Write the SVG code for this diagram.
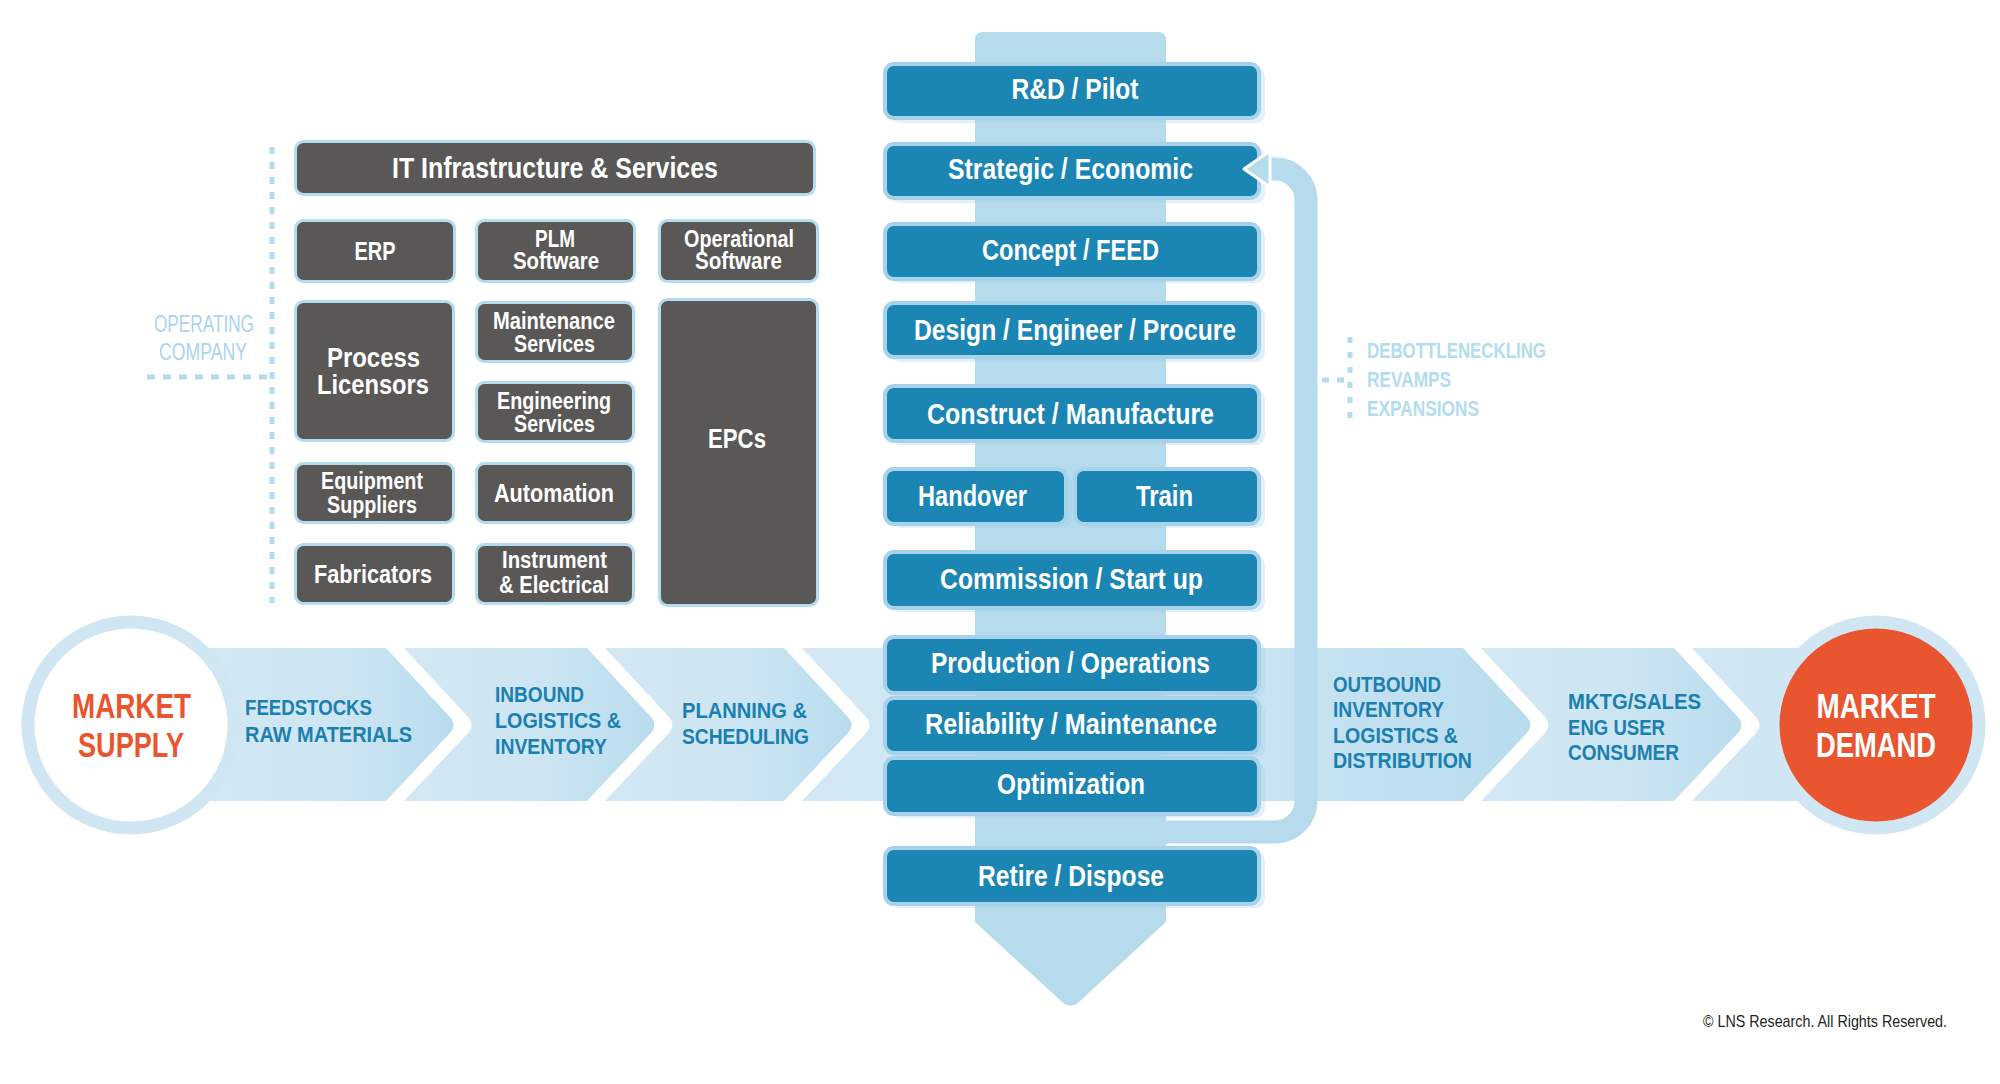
<svg xmlns="http://www.w3.org/2000/svg" width="2000" height="1084" viewBox="0 0 2000 1084">
<defs>
<linearGradient id="seg" x1="0" y1="0" x2="1" y2="0">
<stop offset="0" stop-color="#d3e8f4"/>
<stop offset="0.55" stop-color="#cde5f2"/>
<stop offset="1" stop-color="#b8dcee"/>
</linearGradient>
<style>
.sg{fill:url(#seg)}
.ring{stroke:#d0e7f3;stroke-width:13}
.col{fill:#b5dbed}
.loop{fill:none;stroke:#b5dbed;stroke-width:23}
.bs{fill:#9fcfe6;opacity:0.3}
.bb{fill:#1b85b3;stroke:#a6d3ea;stroke-width:4}
.gb{fill:#595857;stroke:#b3dcee;stroke-width:3}
.dot{fill:none;stroke:#b3dcee;stroke-width:5}
text{font-family:"Liberation Sans",Arial,sans-serif;font-weight:700}
.bt{font-size:29px;fill:#fff;text-anchor:middle}
.g1{font-size:25px;fill:#fff;text-anchor:middle}
.g2{font-size:23px;fill:#fff;text-anchor:middle}
.g3{font-size:28px;fill:#fff;text-anchor:middle}
.g4{font-size:30px;fill:#fff;text-anchor:middle}
.lb{font-size:22px;fill:#1a80b0}
.mk{font-size:35px;text-anchor:middle}
.op{font-size:23px;font-weight:400;fill:#a9d5eb;text-anchor:middle}
.db{font-size:22px;fill:#b3dcee}
.cp{font-size:17px;font-weight:400;fill:#231f20}
</style>
</defs>
<rect width="2000" height="1084" fill="#fff"/>

<g id="value-chain-band">
<path class="sg" d="M200 648H386L450 717Q457 725 450 733L386 801H200Z"/>
<path class="sg" d="M404 648H587L651 717Q658 725 651 733L587 801H404L468 733Q475 725 468 717Z"/>
<path class="sg" d="M605 648H784L848 717Q855 725 848 733L784 801H605L669 733Q676 725 669 717Z"/>
<path class="sg" d="M802 648H1463L1527 717Q1534 725 1527 733L1463 801H802L866 733Q873 725 866 717Z"/>
<path class="sg" d="M1481 648H1674L1738 717Q1745 725 1738 733L1674 801H1481L1545 733Q1552 725 1545 717Z"/>
<path class="sg" d="M1692 648H1880V801H1692L1756 733Q1763 725 1756 717Z"/>
</g>

<g id="market-supply">
<circle class="ring" cx="131" cy="725" r="103" fill="#fff"/>
<text class="mk" x="131.5" y="718" fill="#e8552f" textLength="119" lengthAdjust="spacingAndGlyphs">MARKET</text>
<text class="mk" x="131" y="757" fill="#e8552f" textLength="106" lengthAdjust="spacingAndGlyphs">SUPPLY</text>
</g>
<g id="market-demand">
<circle class="ring" cx="1876" cy="725" r="103" fill="#e8552f"/>
<text class="mk" x="1876" y="718" fill="#fff" textLength="119" lengthAdjust="spacingAndGlyphs">MARKET</text>
<text class="mk" x="1876" y="757" fill="#fff" textLength="120" lengthAdjust="spacingAndGlyphs">DEMAND</text>
</g>

<g id="band-labels">
<text class="lb" x="245" y="715" textLength="127" lengthAdjust="spacingAndGlyphs">FEEDSTOCKS</text>
<text class="lb" x="245" y="742" textLength="167" lengthAdjust="spacingAndGlyphs">RAW MATERIALS</text>
<text class="lb" x="495" y="702" textLength="89" lengthAdjust="spacingAndGlyphs">INBOUND</text>
<text class="lb" x="495" y="728" textLength="126" lengthAdjust="spacingAndGlyphs">LOGISTICS &amp;</text>
<text class="lb" x="495" y="754" textLength="112" lengthAdjust="spacingAndGlyphs">INVENTORY</text>
<text class="lb" x="682" y="718" textLength="125" lengthAdjust="spacingAndGlyphs">PLANNING &amp;</text>
<text class="lb" x="682" y="744" textLength="127" lengthAdjust="spacingAndGlyphs">SCHEDULING</text>
<text class="lb" x="1333" y="692" textLength="108" lengthAdjust="spacingAndGlyphs">OUTBOUND</text>
<text class="lb" x="1333" y="717" textLength="111" lengthAdjust="spacingAndGlyphs">INVENTORY</text>
<text class="lb" x="1333" y="743" textLength="125" lengthAdjust="spacingAndGlyphs">LOGISTICS &amp;</text>
<text class="lb" x="1333" y="768" textLength="139" lengthAdjust="spacingAndGlyphs">DISTRIBUTION</text>
<text class="lb" x="1568" y="709" textLength="133" lengthAdjust="spacingAndGlyphs">MKTG/SALES</text>
<text class="lb" x="1568" y="735" textLength="97" lengthAdjust="spacingAndGlyphs">ENG USER</text>
<text class="lb" x="1568" y="760" textLength="111" lengthAdjust="spacingAndGlyphs">CONSUMER</text>
</g>

<g id="lifecycle-column">
<path class="col" d="M983 32H1158Q1166 32 1166 40V922L1080 1001Q1070.5 1010 1061 1001L975 922V40Q975 32 983 32Z"/>
</g>

<g id="connectors">
<path class="loop" d="M1150 832H1275A31 31 0 0 0 1306 801V200A31 31 0 0 0 1275 169H1266"/>
<path class="dot" d="M272 147V603" stroke-dasharray="7 8"/>
<path class="dot" d="M147 377H268" stroke-dasharray="8 8"/>
<path class="dot" d="M1350 337V420" stroke-dasharray="6 9"/>
<path class="dot" d="M1322 380H1347" stroke-dasharray="7 8"/>
</g>

<g id="stage-shadows">
<rect class="bs" x="891" y="68" width="374" height="55" rx="9"/>
<rect class="bs" x="891" y="148" width="374" height="55" rx="9"/>
<rect class="bs" x="891" y="228" width="374" height="55" rx="9"/>
<rect class="bs" x="891" y="307" width="374" height="55" rx="9"/>
<rect class="bs" x="891" y="390" width="374" height="55" rx="9"/>
<rect class="bs" x="891" y="473" width="181" height="55" rx="9"/>
<rect class="bs" x="1081" y="473" width="184" height="55" rx="9"/>
<rect class="bs" x="891" y="556" width="374" height="56" rx="9"/>
<rect class="bs" x="891" y="641" width="374" height="56" rx="9"/>
<rect class="bs" x="891" y="702" width="374" height="55" rx="9"/>
<rect class="bs" x="891" y="762" width="374" height="56" rx="9"/>
<rect class="bs" x="891" y="852" width="374" height="56" rx="9"/>
</g>

<g id="stage-rd"><rect class="bb" x="885" y="64" width="374" height="54" rx="9"/><text class="bt" x="1075" y="99" textLength="127" lengthAdjust="spacingAndGlyphs">R&amp;D / Pilot</text></g>
<g id="stage-strategic"><rect class="bb" x="885" y="144" width="374" height="54" rx="9"/><text class="bt" x="1070.5" y="179" textLength="245" lengthAdjust="spacingAndGlyphs">Strategic / Economic</text></g>
<g id="stage-concept"><rect class="bb" x="885" y="224" width="374" height="55" rx="9"/><text class="bt" x="1070.5" y="260" textLength="177" lengthAdjust="spacingAndGlyphs">Concept / FEED</text></g>
<g id="stage-design"><rect class="bb" x="885" y="303" width="374" height="54" rx="9"/><text class="bt" x="1075" y="340" textLength="322" lengthAdjust="spacingAndGlyphs">Design / Engineer / Procure</text></g>
<g id="stage-construct"><rect class="bb" x="885" y="386" width="374" height="55" rx="9"/><text class="bt" x="1070.5" y="424" textLength="287" lengthAdjust="spacingAndGlyphs">Construct / Manufacture</text></g>
<g id="stage-handover"><rect class="bb" x="885" y="469" width="181" height="55" rx="9"/><text class="bt" x="972.5" y="506" textLength="109" lengthAdjust="spacingAndGlyphs">Handover</text></g>
<g id="stage-train"><rect class="bb" x="1075" y="469" width="184" height="55" rx="9"/><text class="bt" x="1164.5" y="506" textLength="57" lengthAdjust="spacingAndGlyphs">Train</text></g>
<g id="stage-commission"><rect class="bb" x="885" y="552" width="374" height="56" rx="9"/><text class="bt" x="1071.5" y="589" textLength="263" lengthAdjust="spacingAndGlyphs">Commission / Start up</text></g>
<g id="stage-production"><rect class="bb" x="885" y="637" width="374" height="56" rx="9"/><text class="bt" x="1070.5" y="673" textLength="279" lengthAdjust="spacingAndGlyphs">Production / Operations</text></g>
<g id="stage-reliability"><rect class="bb" x="885" y="698" width="374" height="55" rx="9"/><text class="bt" x="1071" y="734" textLength="292" lengthAdjust="spacingAndGlyphs">Reliability / Maintenance</text></g>
<g id="stage-optimization"><rect class="bb" x="885" y="758" width="374" height="56" rx="9"/><text class="bt" x="1071" y="794" textLength="148" lengthAdjust="spacingAndGlyphs">Optimization</text></g>
<g id="stage-retire"><rect class="bb" x="885" y="848" width="374" height="56" rx="9"/><text class="bt" x="1071" y="886" textLength="186" lengthAdjust="spacingAndGlyphs">Retire / Dispose</text></g>

<g id="loop-arrowhead">
<polygon points="1244,169 1270,151 1270,187" fill="#b5dbed" stroke="#fff" stroke-width="3" stroke-linejoin="round"/>
</g>

<g id="it-infrastructure"><rect class="gb" x="295.5" y="141.5" width="519" height="53" rx="8"/><text class="g4" x="555" y="178" textLength="326" lengthAdjust="spacingAndGlyphs">IT Infrastructure &amp; Services</text></g>
<g id="erp"><rect class="gb" x="295.5" y="220.5" width="159" height="61" rx="8"/><text class="g1" x="375" y="260" textLength="41" lengthAdjust="spacingAndGlyphs">ERP</text></g>
<g id="plm"><rect class="gb" x="476.5" y="220.5" width="158" height="61" rx="8"/><text class="g2" x="555" y="247" textLength="40" lengthAdjust="spacingAndGlyphs">PLM</text><text class="g2" x="556" y="269" textLength="86" lengthAdjust="spacingAndGlyphs">Software</text></g>
<g id="operational-software"><rect class="gb" x="659.5" y="220.5" width="158" height="61" rx="8"/><text class="g2" x="739" y="247" textLength="110" lengthAdjust="spacingAndGlyphs">Operational</text><text class="g2" x="738.5" y="269" textLength="87" lengthAdjust="spacingAndGlyphs">Software</text></g>
<g id="process-licensors"><rect class="gb" x="295.5" y="301.5" width="158" height="139" rx="8"/><text class="g3" x="373.5" y="367" textLength="93" lengthAdjust="spacingAndGlyphs">Process</text><text class="g3" x="373" y="394" textLength="112" lengthAdjust="spacingAndGlyphs">Licensors</text></g>
<g id="maintenance-services"><rect class="gb" x="476.5" y="302.5" width="157" height="59" rx="8"/><text class="g2" x="554" y="329" textLength="122" lengthAdjust="spacingAndGlyphs">Maintenance</text><text class="g2" x="554.5" y="352" textLength="81" lengthAdjust="spacingAndGlyphs">Services</text></g>
<g id="engineering-services"><rect class="gb" x="476.5" y="382.5" width="157" height="59" rx="8"/><text class="g2" x="554" y="409" textLength="114" lengthAdjust="spacingAndGlyphs">Engineering</text><text class="g2" x="554.5" y="432" textLength="81" lengthAdjust="spacingAndGlyphs">Services</text></g>
<g id="epcs"><rect class="gb" x="659.5" y="299.5" width="158" height="306" rx="8"/><text class="g3" x="737" y="448" textLength="58" lengthAdjust="spacingAndGlyphs">EPCs</text></g>
<g id="equipment-suppliers"><rect class="gb" x="295.5" y="463.5" width="158" height="59" rx="8"/><text class="g2" x="372" y="489" textLength="102" lengthAdjust="spacingAndGlyphs">Equipment</text><text class="g2" x="372" y="513" textLength="90" lengthAdjust="spacingAndGlyphs">Suppliers</text></g>
<g id="automation"><rect class="gb" x="476.5" y="463.5" width="157" height="59" rx="8"/><text class="g1" x="554" y="502" textLength="120" lengthAdjust="spacingAndGlyphs">Automation</text></g>
<g id="fabricators"><rect class="gb" x="295.5" y="544.5" width="158" height="59" rx="8"/><text class="g1" x="373" y="583" textLength="118" lengthAdjust="spacingAndGlyphs">Fabricators</text></g>
<g id="instrument-electrical"><rect class="gb" x="476.5" y="544.5" width="157" height="59" rx="8"/><text class="g2" x="554.5" y="568" textLength="105" lengthAdjust="spacingAndGlyphs">Instrument</text><text class="g2" x="554" y="593" textLength="110" lengthAdjust="spacingAndGlyphs">&amp; Electrical</text></g>

<g id="operating-company">
<text class="op" x="204" y="332" textLength="100" lengthAdjust="spacingAndGlyphs">OPERATING</text>
<text class="op" x="203" y="360" textLength="88" lengthAdjust="spacingAndGlyphs">COMPANY</text>
</g>

<g id="debottlenecking">
<text class="db" x="1367" y="358" textLength="179" lengthAdjust="spacingAndGlyphs">DEBOTTLENECKLING</text>
<text class="db" x="1367" y="387" textLength="84" lengthAdjust="spacingAndGlyphs">REVAMPS</text>
<text class="db" x="1367" y="416" textLength="112" lengthAdjust="spacingAndGlyphs">EXPANSIONS</text>
</g>

<text class="cp" x="1703" y="1027" textLength="244" lengthAdjust="spacingAndGlyphs">© LNS Research. All Rights Reserved.</text>
</svg>
